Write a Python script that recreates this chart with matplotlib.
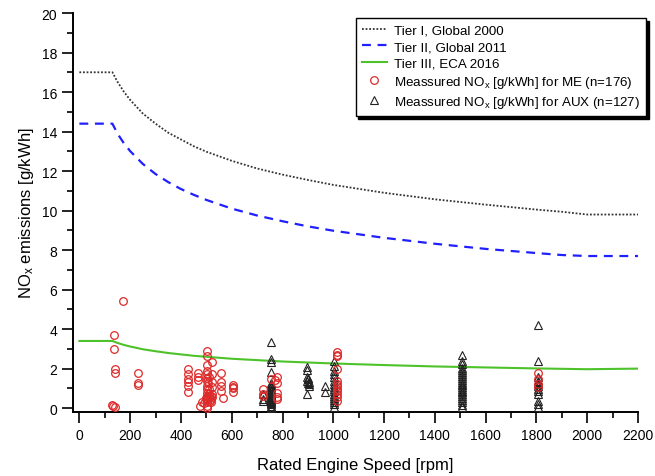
import matplotlib
matplotlib.use("Agg")
import matplotlib.pyplot as plt
from matplotlib.ticker import MultipleLocator

plt.rcParams['font.family'] = ['Liberation Sans', 'DejaVu Sans']
plt.rcParams['mathtext.default'] = 'regular'

# IMO NOx limit curves
tier_rpm = [0, 130, 150, 175, 200, 250, 300, 350, 400, 450, 500, 600, 700, 800,
            900, 1000, 1200, 1400, 1600, 1800, 1900, 2000, 2200]
tier1 = [17.0, 17.0, 16.52, 16.02, 15.6, 14.91, 14.4, 13.94, 13.6, 13.26, 12.98,
         12.52, 12.13, 11.82, 11.55, 11.3, 10.9, 10.57, 10.3, 10.05, 9.94, 9.8, 9.8]
tier2 = [14.4, 14.4, 13.9, 13.41, 13.01, 12.36, 11.85, 11.44, 11.09, 10.8, 10.54,
         10.1, 9.75, 9.46, 9.2, 8.98, 8.62, 8.32, 8.06, 7.85, 7.75, 7.7, 7.7]
tier3 = [3.4, 3.4, 3.3, 3.2, 3.12, 2.98, 2.88, 2.79, 2.72, 2.65, 2.6, 2.5, 2.43,
         2.36, 2.31, 2.26, 2.18, 2.11, 2.06, 2.01, 1.99, 1.97, 2.0]

# measured NOx, main engines
me_rpm = [128, 134, 140, 138, 136, 140, 140, 173, 229, 229, 229,
          428, 428, 428, 428, 428, 428, 468, 468, 468, 474, 490, 484, 497, 497,
          503, 503, 503, 503, 503, 503, 503, 503, 503, 503, 503, 503, 503, 503, 503,
          507, 510, 510, 510, 512, 515, 517, 517, 517,
          523, 523, 523, 523, 523, 523, 556, 556, 556, 556, 565, 605, 605, 605, 605,
          724, 724, 724, 770, 780, 780, 780, 780, 780, 753,
          1013, 1013, 1013, 1013, 1013, 1013, 1013, 1013, 1013, 1013, 1013, 1013,
          1805, 1805, 1805, 1805]
me_val = [0.18, 0.1, 0.04, 3.7, 2.97, 2.0, 1.77, 5.4, 1.76, 1.25, 1.17,
          1.97, 1.72, 1.47, 1.3, 1.13, 0.8, 1.76, 1.59, 1.42, 0.12, 0.25, 0.3, 0.46, 0.5,
          2.9, 2.65, 2.18, 1.89, 1.72, 1.55, 1.38, 1.13, 0.96, 0.79, 0.62, 0.46, 0.29, 0.12, 0.0,
          1.25, 0.95, 0.7, 0.55, 1.6, 0.38, 0.62, 0.46, 0.29,
          2.36, 1.72, 1.3, 1.05, 0.71, 0.54, 1.76, 1.3, 1.13, 0.88, 0.49, 1.16, 1.0, 0.83, 1.08,
          0.96, 0.74, 0.62, 1.42, 1.59, 1.25, 0.79, 0.54, 0.46, 1.47,
          2.82, 2.7, 2.65, 1.97, 1.38, 1.22, 0.96, 0.71, 0.54, 0.37, 1.1, 0.85,
          1.76, 1.47, 1.22, 1.05]

# measured NOx, auxiliary engines
aux_rpm = [723, 723, 723,
           753, 753, 753, 753, 753, 753, 753, 753, 753, 753, 753, 753, 753, 753, 753,
           753, 753, 753, 753, 753, 753, 753, 753, 753, 753, 753,
           898, 898, 898, 898, 902, 902, 902, 905, 905, 905, 898,
           966, 966,
           1003, 1003, 1003, 1003, 1003, 1003, 1003, 1003, 1003, 1003, 1003, 1003,
           1003, 1003, 1003, 1003, 1003,
           1505, 1505, 1505, 1505, 1505, 1505, 1505, 1505, 1505, 1505, 1505, 1505,
           1505, 1505, 1505, 1505, 1505, 1505, 1505, 1505, 1505, 1505, 1505, 1505,
           1805, 1805, 1805, 1805, 1805, 1805, 1805, 1805, 1805, 1805, 1805, 1805, 1805]
aux_val = [0.71, 0.46, 0.36,
           3.33, 2.48, 2.35, 1.81, 1.28, 1.2, 1.12, 1.06, 0.98, 0.92, 0.86, 0.79, 0.73,
           0.66, 0.6, 0.55, 0.52, 0.48, 0.42, 0.37, 0.3, 0.25, 0.19, 0.13, 0.08, 0.03,
           2.06, 1.94, 1.6, 1.38, 1.5, 1.45, 1.25, 1.3, 1.13, 1.2, 0.71,
           1.13, 0.8,
           2.4, 2.14, 1.9, 1.72, 1.6, 1.38, 1.2, 1.08, 0.96, 0.85, 0.74, 0.62, 0.5,
           0.41, 0.3, 0.2, 0.08,
           2.68, 2.4, 2.23, 2.02, 1.91, 1.83, 1.72, 1.61, 1.52, 1.43, 1.33, 1.24,
           1.15, 1.06, 0.97, 0.88, 0.8, 0.69, 0.6, 0.49, 0.4, 0.29, 0.18, 0.07,
           4.22, 2.4, 1.59, 1.38, 1.3, 1.22, 1.13, 0.96, 0.85, 0.71, 0.37, 0.07, 0.2]

fig = plt.figure(figsize=(6.55, 4.77), dpi=100)
ax = fig.add_axes([0.1115, 0.134, 0.8626, 0.8366])

l1, = ax.plot(tier_rpm, tier1, color='#333333', linestyle=(0, (1, 1)), linewidth=1.3,
              label='Tier I, Global 2000')
l2, = ax.plot(tier_rpm, tier2, color='#1f1fff', linestyle=(0, (4, 3)), linewidth=1.6,
              label='Tier II, Global 2011')
l3, = ax.plot(tier_rpm, tier3, color='#4ec22a', linewidth=1.5,
              label='Tier III, ECA 2016')
s2, = ax.plot(aux_rpm, aux_val, linestyle='none', marker='^', markersize=5.5,
              markerfacecolor='none', markeredgecolor='#222222', markeredgewidth=0.8,
              label='Meassured NO$_x$ [g/kWh] for AUX (n=127)', zorder=3)
s1, = ax.plot(me_rpm, me_val, linestyle='none', marker='o', markersize=5.5,
              markerfacecolor='none', markeredgecolor='#dd2a2a', markeredgewidth=0.9,
              label='Meassured NO$_x$ [g/kWh] for ME (n=176)', zorder=4)

ax.set_xlim(-25, 2200)
ax.set_ylim(-0.2, 20)
ax.xaxis.set_major_locator(MultipleLocator(200))
ax.xaxis.set_minor_locator(MultipleLocator(100))
ax.yaxis.set_major_locator(MultipleLocator(2))
ax.yaxis.set_minor_locator(MultipleLocator(1))

for s in ['top', 'right']:
    ax.spines[s].set_visible(False)
for s in ['left', 'bottom']:
    ax.spines[s].set_linewidth(1.4)
ax.tick_params(which='major', direction='out', length=8, width=1.2, labelsize=10)
ax.tick_params(which='minor', direction='out', length=4, width=1.2)

ax.set_xlabel('Rated Engine Speed [rpm]', fontsize=12, labelpad=11)
ax.set_ylabel('NO$_x$ emissions [g/kWh]', fontsize=12, labelpad=4)

leg = ax.legend(handles=[l1, l2, l3, s1, s2], loc='upper right',
                bbox_to_anchor=(0.986, 0.960), bbox_transform=fig.transFigure,
                borderaxespad=0, fontsize=9.6, handlelength=1.9, handletextpad=0.5,
                labelspacing=0.32, borderpad=0.45, fancybox=False, edgecolor='black',
                shadow={'color': 'black', 'alpha': 1}, framealpha=1)
leg.get_frame().set_linewidth(1.0)

fig.savefig('out.png', dpi=100)
